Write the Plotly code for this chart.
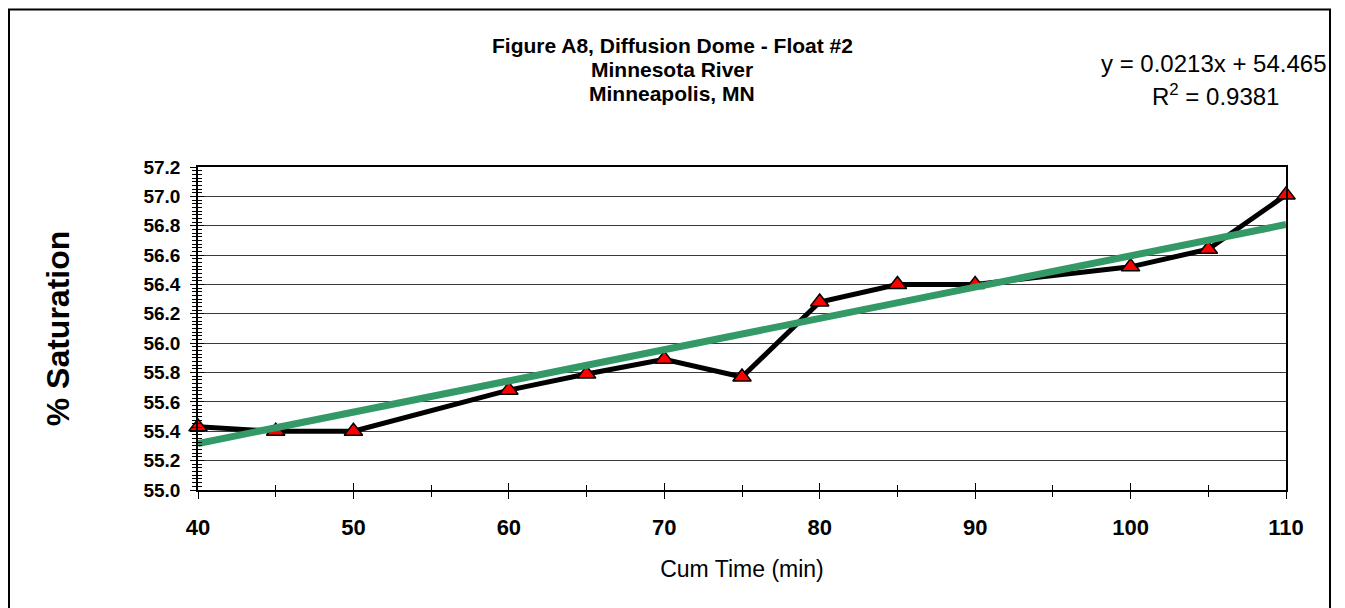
import plotly.graph_objects as go

cum_time = [40, 45, 50, 60, 65, 70, 75, 80, 85, 90, 100, 105, 110]
saturation = [55.43, 55.40, 55.40, 55.68, 55.79, 55.89, 55.77, 56.28, 56.40, 56.40, 56.52, 56.64, 57.01]
trend_x = [40, 110]
trend_y = [55.317, 56.808]
x_ticks = [40, 50, 60, 70, 80, 90, 100, 110]
y_ticks = [55.0, 55.2, 55.4, 55.6, 55.8, 56.0, 56.2, 56.4, 56.6, 56.8, 57.0, 57.2]
title_lines = ["Figure A8, Diffusion Dome - Float #2", "Minnesota River", "Minneapolis, MN"]
equation_lines = ["y = 0.0213x + 54.465", "R<sup>2</sup> = 0.9381"]

FONT = "Liberation Sans, Arial, sans-serif"
L, R, T, B = 198, 59, 167, 118
W, H = 1345, 608
PW, PH = W - L - R, H - T - B


def px(x):
    return (x - L) / PW


def py(y):
    return (H - B - y) / PH


fig = go.Figure()
fig.add_trace(go.Scatter(
    x=cum_time, y=saturation, mode="lines+markers",
    line=dict(color="black", width=5),
    marker=dict(symbol="triangle-up", size=16, color="#ff0000",
                line=dict(color="black", width=1.5)),
    showlegend=False, cliponaxis=False))
fig.add_trace(go.Scatter(
    x=trend_x, y=trend_y, mode="lines",
    line=dict(color="#339966", width=7),
    showlegend=False, cliponaxis=False))
# invisible trace to activate overlay axes (used for crossing tick marks)
fig.add_trace(go.Scatter(x=trend_x, y=trend_y, mode="lines", line=dict(width=0),
                         opacity=0, hoverinfo="skip", showlegend=False,
                         xaxis="x2", yaxis="y2"))

annotations = []
for txt, yy in zip(title_lines, [45, 69, 93]):
    annotations.append(dict(text=txt, xref="paper", yref="paper", x=px(672), y=py(yy),
                            xanchor="center", yanchor="middle", showarrow=False,
                            font=dict(family=FONT, size=21, color="black", weight="bold")))
annotations.append(dict(text=equation_lines[0], xref="paper", yref="paper", x=px(1329), y=py(63),
                        xanchor="right", yanchor="middle", showarrow=False,
                        font=dict(family=FONT, size=24, color="black")))
annotations.append(dict(text=equation_lines[1], xref="paper", yref="paper", x=px(1215), y=py(95),
                        xanchor="center", yanchor="middle", showarrow=False,
                        font=dict(family=FONT, size=24, color="black")))

fig.update_layout(
    width=W, height=H,
    margin=dict(l=L, r=R, t=T, b=B),
    paper_bgcolor="white", plot_bgcolor="white",
    font=dict(family=FONT, color="black"),
    xaxis=dict(
        range=[40, 110], tickvals=x_ticks, ticktext=[str(v) for v in x_ticks],
        showgrid=False, zeroline=False,
        showline=True, linecolor="black", linewidth=1.5, mirror=True,
        ticks="outside", ticklen=7, tickwidth=1, tickcolor="black",
        minor=dict(dtick=5, tick0=40, ticks="outside", ticklen=5, tickcolor="black", tickwidth=1),
        tickfont=dict(family=FONT, size=22, color="black", weight="bold"),
        ticklabelstandoff=10,
        title=dict(text="Cum Time (min)", font=dict(family=FONT, size=23, color="black"), standoff=22),
    ),
    yaxis=dict(
        range=[55.0, 57.2], tickvals=y_ticks, ticktext=[f"{v:.1f}" for v in y_ticks],
        showgrid=True, gridcolor="#3a3a3a", gridwidth=1, zeroline=False,
        showline=True, linecolor="black", linewidth=1.5, mirror=True,
        ticks="outside", ticklen=6, tickwidth=1, tickcolor="black",
        minor=dict(dtick=0.025, tick0=55.0, ticks="outside", ticklen=4, tickcolor="black", tickwidth=1, showgrid=False),
        tickfont=dict(family=FONT, size=19, color="black", weight="bold"),
        ticklabelstandoff=6,
        title=dict(text="% Saturation", font=dict(family=FONT, size=32, color="black", weight="bold"), standoff=64),
    ),
    xaxis2=dict(range=[40, 110], overlaying="x", anchor="y2", side="bottom",
                showticklabels=False, showgrid=False, zeroline=False, showline=False,
                tickvals=x_ticks, ticks="inside", ticklen=7, tickcolor="black", tickwidth=1,
                minor=dict(dtick=5, tick0=40, ticks="inside", ticklen=5, tickcolor="black", tickwidth=1)),
    yaxis2=dict(range=[55.0, 57.2], overlaying="y", anchor="x2", side="left",
                showticklabels=False, showgrid=False, zeroline=False, showline=False,
                tickvals=y_ticks, ticks="inside", ticklen=6, tickcolor="black", tickwidth=1,
                minor=dict(dtick=0.025, tick0=55.0, ticks="inside", ticklen=4, tickcolor="black", tickwidth=1, showgrid=False)),
    annotations=annotations,
    shapes=[
        dict(type="rect", xref="paper", yref="paper",
             x0=px(9), x1=px(1330), y0=py(640), y1=py(9.5),
             line=dict(color="black", width=2), fillcolor="rgba(0,0,0,0)", layer="below"),
    ],
)

fig.write_html("out.html", config={"displayModeBar": False},
               post_script="document.body.style.margin='0px';document.body.style.overflow='hidden';")
